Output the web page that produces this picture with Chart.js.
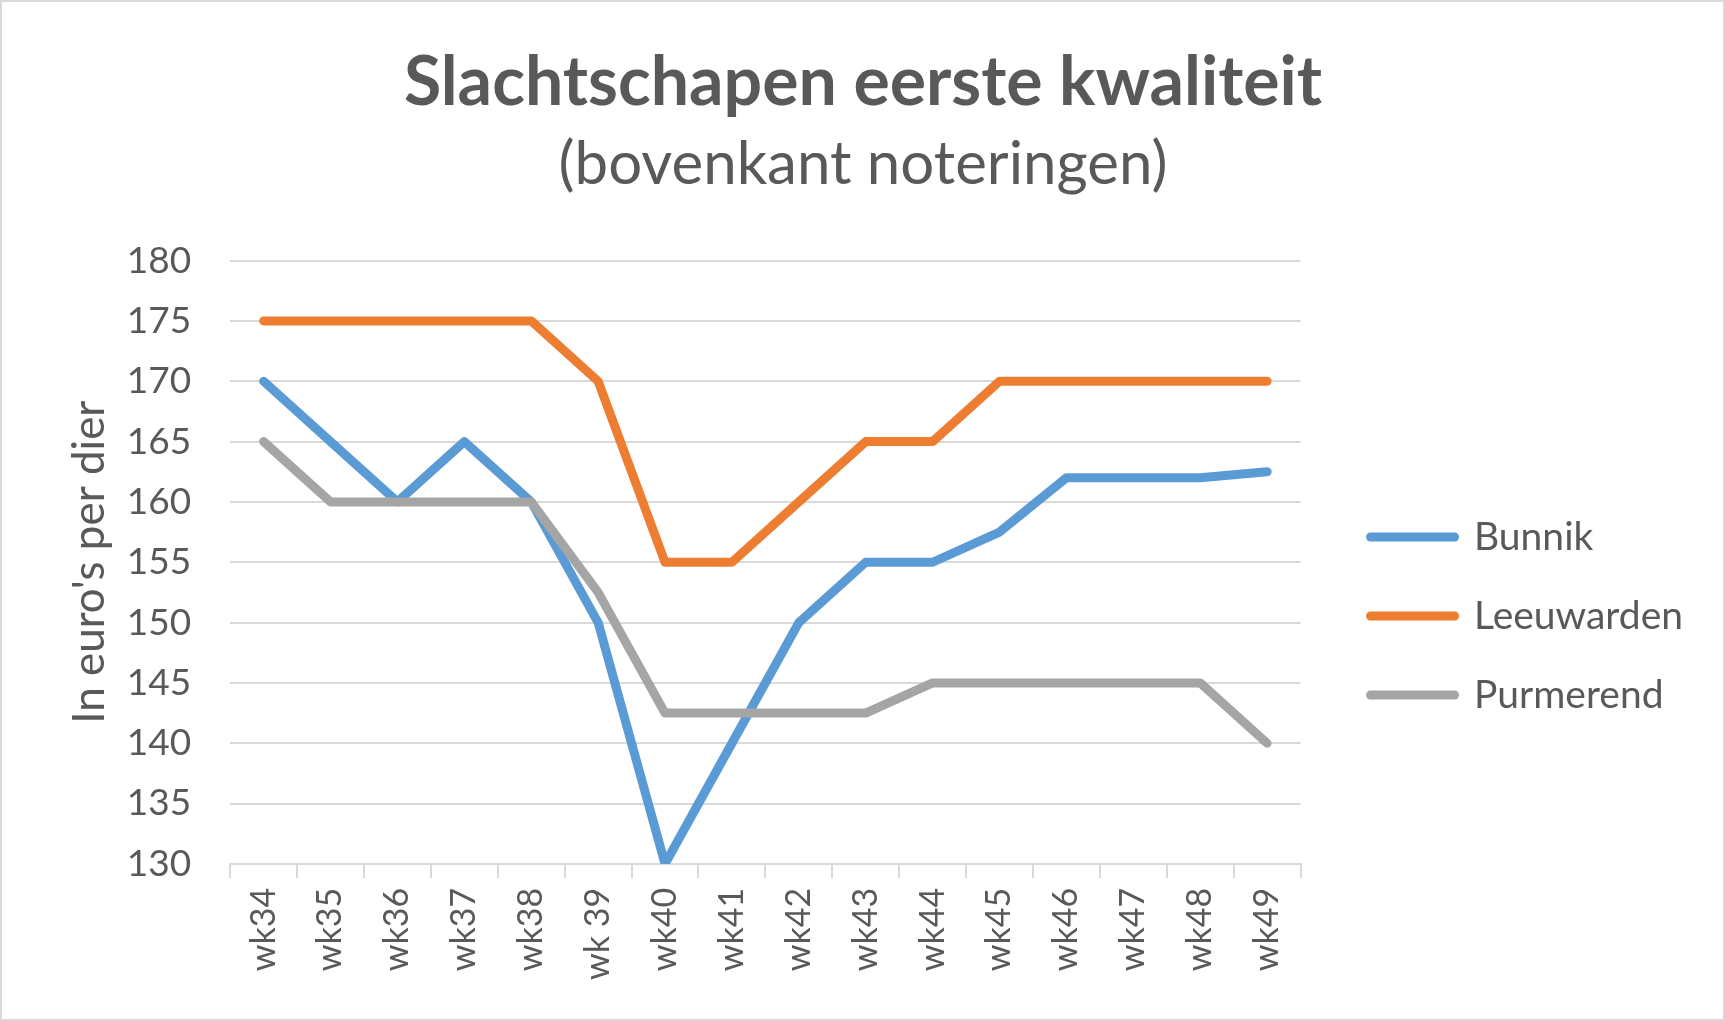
<!DOCTYPE html>
<html>
<head>
<meta charset="utf-8">
<script src="https://cdn.jsdelivr.net/npm/chart.js@4"></script>
<style>
  html, body { margin: 0; padding: 0; background: #fff; }
  #wrap { width: 1725px; height: 1021px; box-sizing: border-box; border: 2px solid #d9d9d9; }
</style>
</head>
<body>
<div id="wrap"><canvas id="chart"></canvas></div>
<script>
const weeks = ['wk34', 'wk35', 'wk36', 'wk37', 'wk38', 'wk 39', 'wk40', 'wk41', 'wk42', 'wk43', 'wk44', 'wk45', 'wk46', 'wk47', 'wk48', 'wk49'];
const bunnik = [170, 165, 160, 165, 160, 150, 130, 140, 150, 155, 155, 157.5, 162, 162, 162, 162.5];
const leeuwarden = [175, 175, 175, 175, 175, 170, 155, 155, 160, 165, 165, 170, 170, 170, 170, 170];
const purmerend = [165, 160, 160, 160, 160, 152.5, 142.5, 142.5, 142.5, 142.5, 145, 145, 145, 145, 145, 140];

const textColor = '#595959';
const gridColor = '#d9d9d9';
const fontFamily = 'Lato, "Open Sans", sans-serif';

function lineSet(label, data, color, order) {
  return {
    label: label,
    data: data,
    borderColor: color,
    backgroundColor: color,
    borderWidth: 9,
    borderCapStyle: 'round',
    borderJoinStyle: 'round',
    pointRadius: 0,
    tension: 0,
    order: order,
  };
}

// nudge the legend to where Excel puts it
const legendShift = {
  id: 'legendShift',
  afterLayout(chart) {
    const lg = chart.legend;
    lg.left += 30;
    lg.right += 30;
    lg.top += 100;
    lg.bottom += 100;
  },
};

const ctx = document.getElementById('chart').getContext('2d');
new Chart(ctx, {
  type: 'line',
  data: {
    labels: weeks,
    datasets: [
      lineSet('Bunnik', bunnik, '#5b9bd5', 3),
      lineSet('Leeuwarden', leeuwarden, '#ed7d31', 2),
      lineSet('Purmerend', purmerend, '#a5a5a5', 1),
    ],
  },
  plugins: [legendShift],
  options: {
    responsive: true,
    maintainAspectRatio: false,
    animation: false,
    layout: {
      padding: { left: 61, right: 60, top: 40, bottom: 29 },
    },
    scales: {
      x: {
        offset: true,
        grid: {
          drawOnChartArea: false,
          offset: true,
          tickLength: 14,
          color: gridColor,
          lineWidth: 2,
        },
        border: { display: true, color: gridColor, width: 2 },
        ticks: {
          color: textColor,
          minRotation: 90,
          maxRotation: 90,
          padding: 10,
          font: { family: fontFamily, size: 34 },
        },
      },
      y: {
        min: 130,
        max: 180,
        ticks: {
          stepSize: 5,
          color: textColor,
          padding: 39,
          font: { family: fontFamily, size: 37 },
        },
        grid: { color: gridColor, lineWidth: 2, drawTicks: false },
        border: { display: false },
        title: {
          display: true,
          text: "In euro's per dier",
          color: textColor,
          padding: { top: 0, bottom: -28 },
          font: { family: fontFamily, size: 44 },
        },
      },
    },
    plugins: {
      title: {
        display: true,
        text: 'Slachtschapen eerste kwaliteit',
        color: textColor,
        padding: { top: 0, bottom: 5 },
        font: { family: fontFamily, size: 68, weight: 'bold' },
      },
      subtitle: {
        display: true,
        text: '(bovenkant noteringen)',
        color: textColor,
        padding: { top: 0, bottom: 60 },
        font: { family: fontFamily, size: 60 },
      },
      legend: {
        position: 'right',
        labels: {
          usePointStyle: true,
          pointStyle: 'line',
          pointStyleWidth: 84,
          boxHeight: 9,
          padding: 40,
          color: textColor,
          font: { family: fontFamily, size: 39 },
          sort: (a, b) => a.datasetIndex - b.datasetIndex,
          generateLabels: (chart) =>
            Chart.defaults.plugins.legend.labels.generateLabels(chart).map((item) => ({
              ...item,
              lineCap: 'round',
              lineWidth: 9,
            })),
        },
      },
      tooltip: { enabled: false },
    },
  },
});
</script>
</body>
</html>
